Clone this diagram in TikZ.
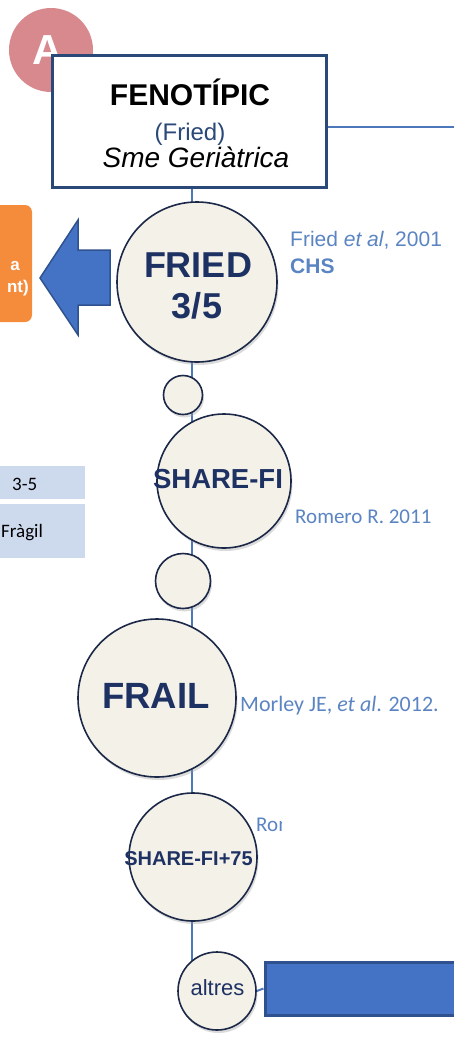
\documentclass[tikz,border=0pt]{standalone}
\usepackage{fontspec}
\setmainfont{Liberation Sans}
\newfontfamily\calib{Carlito}
\usetikzlibrary{backgrounds}
\definecolor{pinkA}{HTML}{D8898E}
\definecolor{navy}{HTML}{1E3163}
\definecolor{boxline}{HTML}{2A4878}
\definecolor{linkblue}{HTML}{4C78BA}
\definecolor{reftext}{HTML}{5A84C2}
\definecolor{cream}{HTML}{F3F1E8}
\definecolor{circline}{HTML}{1C2848}
\definecolor{arrowfill}{HTML}{4472C4}
\definecolor{arrowline}{HTML}{2F528F}
\definecolor{orangebox}{HTML}{F58C3C}
\definecolor{cellblue}{HTML}{CDDAEE}
\tikzset{
  fs/.style={execute at begin node={\fontsize{#1}{#1}\selectfont}},
  circ/.style={circle, draw=circline, line width=1.6pt, fill=cream, inner sep=0pt,
    preaction={fill=black!40, opacity=0.35, transform canvas={shift={(1.5pt,-3pt)}}}},
  lbl/.style={anchor=base, inner sep=0pt, text=navy},
  ref/.style={anchor=base west, inner sep=0pt, text=reftext},
  link/.style={draw=linkblue, line width=2.6pt},
  cell/.style={fill=cellblue, draw=none, anchor=north west, inner sep=0pt}
}
\begin{document}
\begin{tikzpicture}[x=1pt,y=-1pt]
\useasboundingbox (0,0) rectangle (454,1037);

% badge A
\node[circle, fill=pinkA, minimum size=84, inner sep=0pt] (badge) at (51,50) {};
\node[anchor=base, inner sep=0pt, text=white, fs=42, font=\bfseries] (badgeA) at (48,64) {A};

% header box
\node[draw=boxline, line width=3pt, fill=white, minimum width=274, minimum height=132, inner sep=0pt] (head) at (189.5,121.5) {};
\node[anchor=base, inner sep=0pt, fs=30, font=\bfseries] (h1) at (190,105) {FENOTÍPIC};
\node[anchor=base, inner sep=0pt, fs=24, text=boxline] (h2) at (190,140) {(Fried)};
\node[anchor=base, inner sep=0pt, fs=28, font=\itshape] (h3) at (196,167) {Sme Geriàtrica};
\coordinate (hright) at (470,127);

% orange box and arrow
\node[fill=orangebox, rounded corners=7pt, minimum width=50, minimum height=117, inner sep=0pt] (orange) at (7,263.5) {};
\node[anchor=base east, inner sep=0pt, text=white, fs=17, font=\bfseries] (o1) at (20,270) {a};
\node[anchor=base east, inner sep=0pt, text=white, fs=17, font=\bfseries] (o2) at (29,292) {nt)};
\draw[fill=arrowfill, draw=arrowline, line width=1.5pt]
  (40,278) -- (78,220) -- (78,250) -- (110,250) -- (110,305) -- (78,305) -- (78,335) -- cycle;

% table cells
\node[cell, minimum width=90, minimum height=33] (c1) at (-5,466) {};
\node[cell, minimum width=90, minimum height=54] (c2) at (-5,504) {};
\node[anchor=base west, inner sep=0pt, fs=19, font=\calib] (t1) at (12,490) {3-5};
\node[anchor=base west, inner sep=0pt, fs=19, font=\calib] (t2) at (1,537) {Fràgil};

% circles
\node[circ, minimum size=160] (fried) at (197,282) {};
\node[lbl, fs=36, font=\bfseries] (fried1) at (198,277) {FRIED};
\node[lbl, fs=36, font=\bfseries] (fried2) at (197,318) {3/5};

\node[circ, minimum size=39] (s1) at (183,395) {};

\node[circ, minimum size=134] (share) at (224,481) {};
\node[lbl, fs=27.5, font=\bfseries] (share1) at (218,488) {SHARE-FI};

\node[circ, minimum size=55] (s2) at (183,581) {};

\node[circ, minimum size=158] (frail) at (157,698) {};
\node[lbl, fs=36.5, font=\bfseries] (frail1) at (156,708) {FRAIL};

\node[circ, minimum size=128] (share75) at (193,857) {};
\node[lbl, fs=20, font=\bfseries] (share751) at (188.5,865) {SHARE-FI+75};

\node[circ, minimum size=78] (altres) at (217,991) {};
\node[lbl, fs=22] (altres1) at (217.5,995) {altres};

% blue bar
\node[fill=arrowfill, draw=arrowline, line width=3pt, anchor=north west, minimum width=210, minimum height=53, inner sep=0pt] (bar) at (263.5,960.5) {};

% references
\node[ref, fs=21] (r1) at (290,246) {Fried \textit{et al}, 2001};
\node[ref, fs=21, font=\bfseries] (r2) at (290,273) {CHS};
\node[ref, fs=21, font=\calib] (r3) at (295,523) {Romero R. 2011};
\node[ref, fs=22, font=\calib] (r4) at (240,711) {Morley JE, \textit{et al}. 2012.};
\begin{scope}
  \clip (250,800) rectangle (281.5,840);
  \node[ref, fs=21, font=\calib] (r5) at (256,831) {Romero};
\end{scope}

% connectors
\coordinate (vbot) at (192,975);
\begin{scope}[on background layer]
  \draw[link] (vbot |- head.south) -- (vbot);
  \draw[link, line width=2.2pt] (head.east |- hright) -- (hright);
  \draw[link, line width=2pt] (altres.east) -- (bar.west);
\end{scope}
\end{tikzpicture}
\end{document}
